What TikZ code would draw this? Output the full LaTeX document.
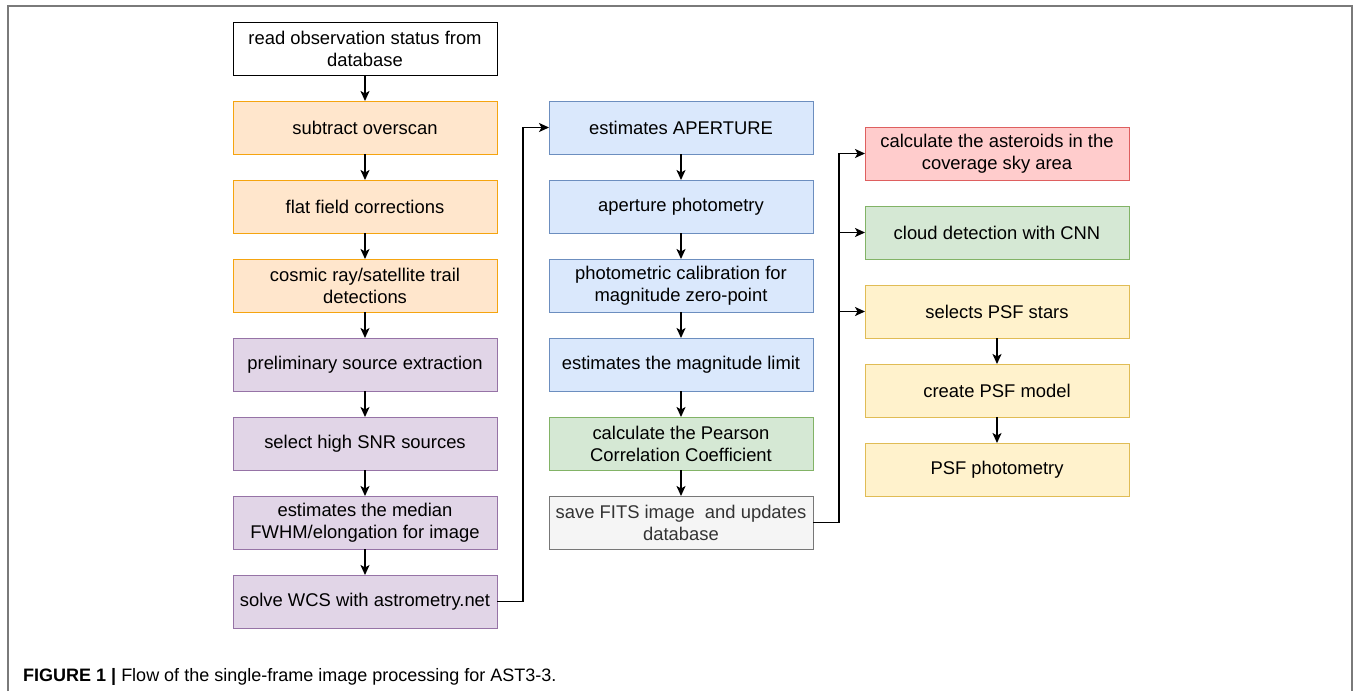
\documentclass[tikz,border=0pt]{standalone}
\usepackage{fontspec}
\setmainfont{Liberation Sans}
\usetikzlibrary{arrows.meta, positioning}

\definecolor{orangefill}{HTML}{FFE6CC}
\definecolor{orangeline}{HTML}{F5A40F}
\definecolor{purplefill}{HTML}{E1D5E7}
\definecolor{purpleline}{HTML}{9673A6}
\definecolor{bluefill}{HTML}{DAE8FC}
\definecolor{blueline}{HTML}{6C8EBF}
\definecolor{greenfill}{HTML}{D5E8D4}
\definecolor{greenline}{HTML}{82B366}
\definecolor{redfill}{HTML}{FFCCCC}
\definecolor{redline}{HTML}{DE5F5F}
\definecolor{yellowfill}{HTML}{FFF2CC}
\definecolor{yellowline}{HTML}{E0BC55}
\definecolor{grayfill}{HTML}{F5F5F5}
\definecolor{grayline}{HTML}{777777}
\definecolor{graytext}{HTML}{333333}
\definecolor{framecol}{HTML}{7A7A7A}

\begin{document}
\begin{tikzpicture}[
    x=1pt, y=-1pt,
    node distance=26pt and 52pt,
    block/.style={rectangle, draw, line width=1pt, align=center, minimum height=53pt, minimum width=264pt, inner sep=2pt, outer sep=0pt, font=\fontsize{18.4}{22}\selectfont},
    orange/.style={block, fill=orangefill, draw=orangeline},
    purple/.style={block, fill=purplefill, draw=purpleline},
    blue/.style={block, fill=bluefill, draw=blueline},
    green/.style={block, fill=greenfill, draw=greenline},
    red/.style={block, fill=redfill, draw=redline},
    yellow/.style={block, fill=yellowfill, draw=yellowline},
    gray/.style={block, fill=grayfill, draw=grayline, text=graytext},
    line/.style={draw, line width=1.6pt, -{Stealth[length=10pt,width=9pt,inset=2.5pt]}}
    ]

    \useasboundingbox (0,0) rectangle (1354,691);
    \draw[framecol, line width=1.5pt] (8,691) -- (8,6) -- (1352,6) -- (1352,691);

    % nodes
    \node[block] (read) at (365,48.5) {read observation status from\\database};
    \node[orange, below=of read] (overscan) {subtract overscan};
    \node[orange, below=of overscan] (flat) {flat field corrections};
    \node[orange, below=of flat] (cosmic) {cosmic ray/satellite trail\\detections};
    \node[purple, below=of cosmic] (prelim) {preliminary source extraction};
    \node[purple, below=of prelim] (snr) {select high SNR sources};
    \node[purple, below=of snr] (fwhm) {estimates the median\\FWHM/elongation for image};
    \node[purple, below=of fwhm] (wcs) {solve WCS with astrometry.net};

    \node[blue, right=of overscan] (aperture) {estimates APERTURE};
    \node[blue, below=of aperture] (aphot) {aperture photometry};
    \node[blue, below=of aphot] (zeropt) {photometric calibration for\\magnitude zero-point};
    \node[blue, below=of zeropt] (maglim) {estimates the magnitude limit};
    \node[green, below=of maglim] (pearson) {calculate the Pearson\\Correlation Coefficient};
    \node[gray, below=of pearson] (save) {save FITS image~ and updates\\database};

    \node[red, right=of aperture, yshift=-26pt] (asteroid) {calculate the asteroids in the\\coverage sky area};
    \node[green, below=of asteroid] (cloud) {cloud detection with CNN};
    \node[yellow, below=of cloud] (psfstars) {selects PSF stars};
    \node[yellow, below=of psfstars] (psfmodel) {create PSF model};
    \node[yellow, below=of psfmodel] (psfphot) {PSF photometry};

    \node[anchor=base west, inner sep=0pt, font=\fontsize{18}{22}\selectfont] (caption) at (23,681)
        {\textbf{FIGURE 1 |} Flow of the single-frame image processing for AST3-3.};

    % lines
    \path[line] (read) -- (overscan);
    \path[line] (overscan) -- (flat);
    \path[line] (flat) -- (cosmic);
    \path[line] (cosmic) -- (prelim);
    \path[line] (prelim) -- (snr);
    \path[line] (snr) -- (fwhm);
    \path[line] (fwhm) -- (wcs);
    \path[line] (wcs.east) -- ++(26,0) |- (aperture.west);

    \path[line] (aperture) -- (aphot);
    \path[line] (aphot) -- (zeropt);
    \path[line] (zeropt) -- (maglim);
    \path[line] (maglim) -- (pearson);
    \path[line] (pearson) -- (save);

    % branches from the save box
    \path[line] (save.east) -- ++(26,0) |- (asteroid.west);
    \path[line] (save.east) -- ++(26,0) |- (cloud.west);
    \path[line] (save.east) -- ++(26,0) |- (psfstars.west);

    \path[line] (psfstars) -- (psfmodel);
    \path[line] (psfmodel) -- (psfphot);

\end{tikzpicture}
\end{document}
